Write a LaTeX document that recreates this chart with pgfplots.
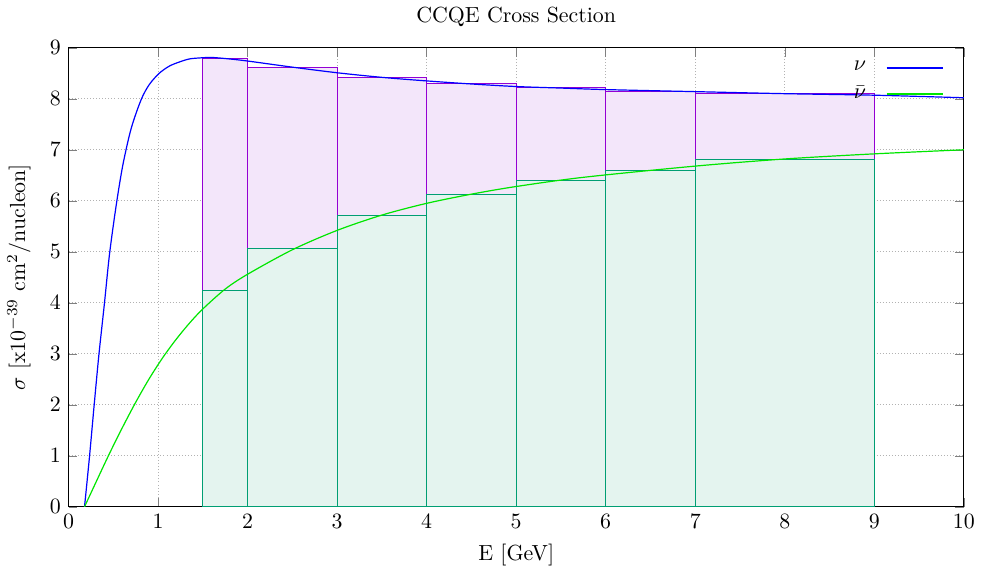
\documentclass[border=0pt]{standalone}
\usepackage{pgfplots}
\pgfplotsset{compat=1.18}
\definecolor{nuBlue}{RGB}{0,0,255}
\definecolor{nubGreen}{RGB}{0,230,0}
\definecolor{purpEdge}{RGB}{148,0,211}
\definecolor{purpFill}{RGB}{243,230,250}
\definecolor{tealEdge}{RGB}{0,158,115}
\definecolor{tealFill}{RGB}{228,244,239}
\begin{document}
\begin{tikzpicture}
\begin{axis}[
  scale only axis,
  width=409.5pt, height=210pt,
  xmin=0, xmax=10, ymin=0, ymax=9,
  xtick={0,1,...,10}, ytick={0,1,...,9},
  tick align=inside,
  major tick length=4pt,
  grid=major,
  grid style={densely dotted, gray!60, line width=0.4pt},
  axis line style={black, line width=0.6pt},
  title={CCQE Cross Section},
  xlabel={E [GeV]},
  ylabel={$\sigma$ [x10$^{-39}$ cm$^2$/nucleon]},
  ylabel style={yshift=2pt},
  legend style={draw=none, fill=none, at={(0.985,0.99)}, anchor=north east,
    legend cell align=right, row sep=1.5pt},
  legend plot pos=right,
  legend image code/.code={\path (0cm,0cm); \draw[#1, line width=0.7pt] (0.25cm,0cm) -- (1.15cm,0cm);},
]
% nu histogram
\addplot[ybar interval, fill=purpFill, draw=purpEdge, line width=0.5pt, forget plot]
  coordinates {(1.5,8.79)(2,8.62)(3,8.42)(4,8.30)(5,8.22)(6,8.15)(7,8.10)(9,8.10)};
% nubar histogram
\addplot[ybar interval, fill=tealFill, draw=tealEdge, line width=0.5pt, forget plot]
  coordinates {(1.5,4.25)(2,5.06)(3,5.72)(4,6.13)(5,6.40)(6,6.59)(7,6.81)(9,6.81)};
% nu curve
\addplot[nuBlue, line width=0.55pt, smooth, tension=0.5] coordinates {
  (0.178,0)(0.234,0.99)(0.285,1.98)(0.338,2.97)(0.40,3.98)(0.457,4.95)
  (0.531,5.90)(0.605,6.69)(0.698,7.41)(0.81,7.98)(0.902,8.28)(1.013,8.50)
  (1.125,8.64)(1.236,8.72)(1.347,8.78)(1.46,8.80)(1.6,8.81)(1.8,8.78)(2,8.74)
  (2.5,8.62)(3,8.51)(3.5,8.42)(4,8.35)(4.5,8.29)(5,8.24)(5.5,8.21)(6,8.18)
  (7,8.14)(8,8.10)(9,8.07)(10,8.02)};
\addlegendentry{$\nu$}
% nubar curve
\addplot[nubGreen, line width=0.55pt, smooth, tension=0.5] coordinates {
  (0.178,0)(0.3,0.46)(0.45,1.02)(0.6,1.55)(0.75,2.05)(0.9,2.51)(1.05,2.92)
  (1.2,3.28)(1.35,3.60)(1.5,3.88)(1.75,4.27)(2.0,4.56)(2.5,5.04)(3,5.42)
  (3.5,5.72)(4,5.95)(4.5,6.13)(5,6.28)(5.75,6.46)(7,6.68)(8,6.82)(9,6.92)(10,7.0)};
\addlegendentry{$\bar{\nu}$}
\end{axis}
\end{tikzpicture}
\end{document}
